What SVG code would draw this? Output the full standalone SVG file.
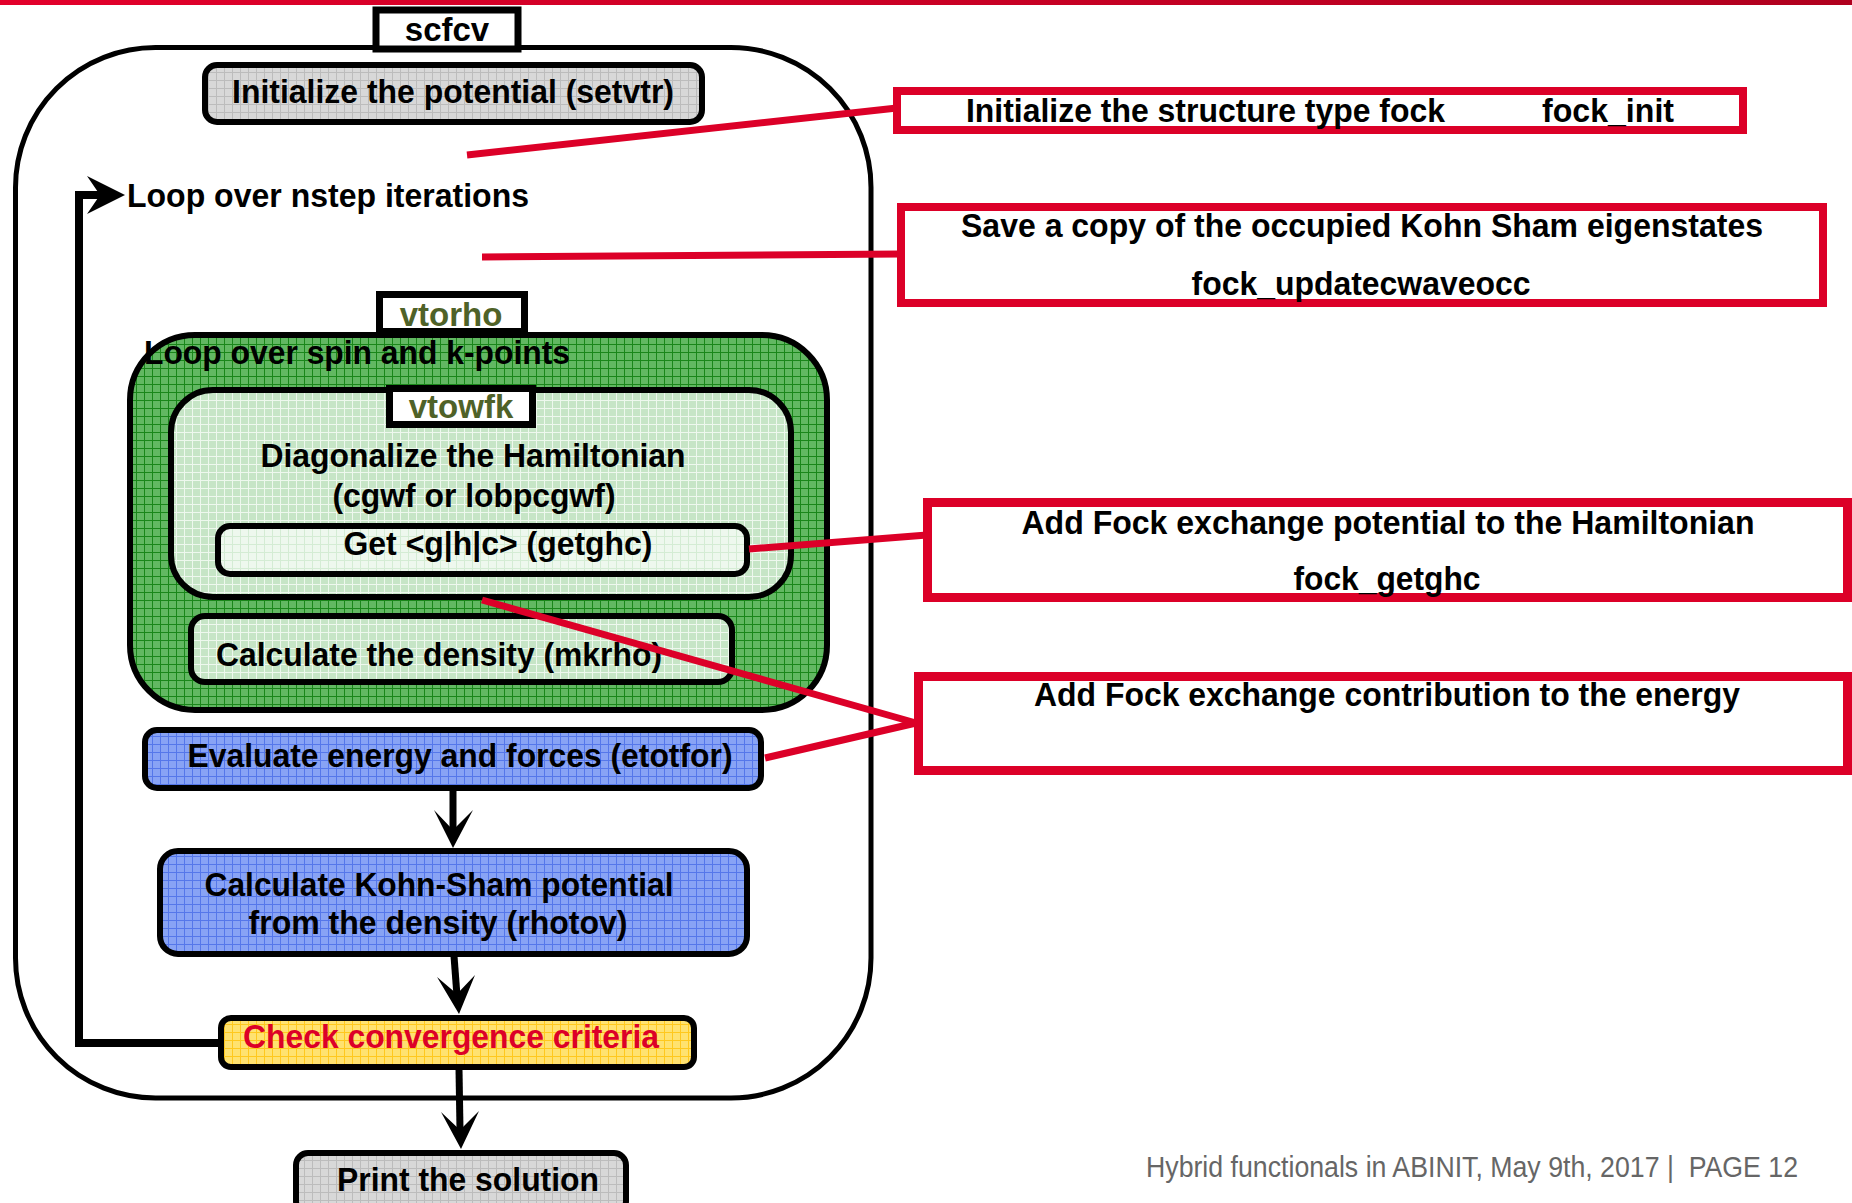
<svg xmlns="http://www.w3.org/2000/svg" width="1852" height="1203" viewBox="0 0 1852 1203">
<defs>
<style>
.t{font-family:"Liberation Sans",Arial,sans-serif;font-weight:bold;font-size:33px;fill:#000}
.m{text-anchor:middle}
.ol{fill:#4f6228}
.box{stroke:#000;stroke-width:6}
.lbl{fill:#fff;stroke:#000;stroke-width:7}
.note{fill:#fff;stroke:#dc0028;stroke-width:8}
.red{stroke:#dc0028;stroke-width:7;fill:none}
.flow{stroke:#000;stroke-width:7;fill:none}
.foot{font-family:"Liberation Sans",Arial,sans-serif;font-size:29px;fill:#666}
</style>
<linearGradient id="bar" x1="0" y1="0" x2="1" y2="0">
<stop offset="0" stop-color="#e3002b"/><stop offset="1" stop-color="#b0001e"/>
</linearGradient>
<pattern id="pGray" width="8" height="8" patternUnits="userSpaceOnUse">
<rect width="8" height="8" fill="#d8d8d8"/><path d="M0 0.5H8M0.5 0V8" stroke="#bcbcbc" stroke-width="1"/>
</pattern>
<pattern id="pGreen" width="8" height="8" patternUnits="userSpaceOnUse">
<rect width="8" height="8" fill="#62b862"/><path d="M0 0.5H8M0.5 0V8" stroke="#1a861a" stroke-width="1"/>
</pattern>
<pattern id="pLight" width="8" height="8" patternUnits="userSpaceOnUse">
<rect width="8" height="8" fill="#c6e5c6"/><path d="M0 0.5H8M0.5 0V8" stroke="#eef8ee" stroke-width="1"/>
</pattern>
<pattern id="pPale" width="8" height="8" patternUnits="userSpaceOnUse">
<rect width="8" height="8" fill="#eef8ee"/><path d="M0 0.5H8M0.5 0V8" stroke="#d4ecd4" stroke-width="1"/>
</pattern>
<pattern id="pBlue" width="8" height="8" patternUnits="userSpaceOnUse">
<rect width="8" height="8" fill="#88a3f5"/><path d="M0 0.5H8M0.5 0V8" stroke="#5577ea" stroke-width="1"/>
</pattern>
<pattern id="pYellow" width="8" height="8" patternUnits="userSpaceOnUse">
<rect width="8" height="8" fill="#ffe270"/><path d="M0 0.5H8M0.5 0V8" stroke="#ffc81e" stroke-width="1"/>
</pattern>
</defs>

<rect x="0" y="0" width="1852" height="5" fill="url(#bar)"/>

<g id="scfcv-loop">
<rect x="15.5" y="47.5" width="855.5" height="1050.5" rx="140" ry="140" fill="#fff" stroke="#000" stroke-width="5"/>
</g>
<g id="scfcv">
<rect class="lbl" x="376" y="10" width="142" height="39"/>
<text class="t m" x="447" y="41">scfcv</text>
</g>
<g id="setvtr">
<rect class="box" x="205" y="65" width="497" height="57" rx="12" fill="url(#pGray)"/>
<text class="t m" x="453" y="103" textLength="442" lengthAdjust="spacingAndGlyphs">Initialize the potential (setvtr)</text>
</g>
<g id="loop-label">
<text class="t" x="127" y="207" textLength="402" lengthAdjust="spacingAndGlyphs">Loop over nstep iterations</text>
</g>

<g id="vtorho-loop">
<rect class="box" x="130" y="335" width="697" height="375" rx="65" fill="url(#pGreen)"/>
</g>
<g id="vtorho">
<rect class="lbl" x="379.5" y="294.5" width="145" height="37"/>
<text class="t m ol" x="451" y="326">vtorho</text>
</g>
<g id="spin-label">
<text class="t" x="144" y="364" textLength="426" lengthAdjust="spacingAndGlyphs">Loop over spin and k-points</text>
</g>
<g id="vtowfk-block">
<rect class="box" x="171" y="390" width="620" height="207" rx="42" fill="url(#pLight)"/>
<text class="t m" x="473" y="467" textLength="425" lengthAdjust="spacingAndGlyphs">Diagonalize the Hamiltonian</text>
<text class="t m" x="474" y="507" textLength="283" lengthAdjust="spacingAndGlyphs">(cgwf or lobpcgwf)</text>
</g>
<g id="vtowfk">
<rect class="lbl" x="389.5" y="388.5" width="143" height="36"/>
<text class="t m ol" x="461" y="418">vtowfk</text>
</g>
<g id="getghc">
<rect class="box" x="218" y="526" width="529" height="48" rx="12" fill="url(#pPale)"/>
<text class="t m" x="498" y="555" textLength="309" lengthAdjust="spacingAndGlyphs">Get &lt;g|h|c&gt; (getghc)</text>
</g>
<g id="mkrho">
<rect class="box" x="191" y="616" width="541" height="66" rx="14" fill="url(#pLight)"/>
<text class="t" x="216" y="666" textLength="446" lengthAdjust="spacingAndGlyphs">Calculate the density (mkrho)</text>
</g>
<g id="etotfor">
<rect class="box" x="145" y="730" width="616" height="58" rx="12" fill="url(#pBlue)"/>
<text class="t m" x="460" y="767" textLength="545" lengthAdjust="spacingAndGlyphs">Evaluate energy and forces (etotfor)</text>
</g>
<g id="rhotov">
<rect class="box" x="160" y="851" width="587" height="103" rx="18" fill="url(#pBlue)"/>
<text class="t m" x="439" y="896" textLength="469" lengthAdjust="spacingAndGlyphs">Calculate Kohn-Sham potential</text>
<text class="t m" x="438" y="934" textLength="379" lengthAdjust="spacingAndGlyphs">from the density (rhotov)</text>
</g>
<g id="convergence">
<rect class="box" x="221" y="1018" width="473" height="49" rx="10" fill="url(#pYellow)"/>
<text class="t m" x="451" y="1048" style="fill:#dc0028" textLength="416" lengthAdjust="spacingAndGlyphs">Check convergence criteria</text>
</g>
<g id="print">
<rect class="box" x="296" y="1153" width="330" height="60" rx="12" fill="url(#pGray)"/>
<text class="t m" x="468" y="1191" textLength="262" lengthAdjust="spacingAndGlyphs">Print the solution</text>
</g>

<g id="fock_init">
<rect class="note" x="897" y="91" width="846" height="39"/>
<text class="t" x="966" y="122" textLength="479" lengthAdjust="spacingAndGlyphs">Initialize the structure type fock</text>
<text class="t" x="1542" y="122" textLength="132" lengthAdjust="spacingAndGlyphs">fock_init</text>
</g>
<g id="fock_updatecwaveocc">
<rect class="note" x="901" y="207" width="922" height="96"/>
<text class="t m" x="1362" y="237" textLength="802" lengthAdjust="spacingAndGlyphs">Save a copy of the occupied Kohn Sham eigenstates</text>
<text class="t m" x="1361" y="295" textLength="339" lengthAdjust="spacingAndGlyphs">fock_updatecwaveocc</text>
</g>
<g id="fock_getghc">
<rect class="note" x="927.5" y="502.5" width="920" height="95" style="stroke-width:9"/>
<text class="t m" x="1388" y="534" textLength="733" lengthAdjust="spacingAndGlyphs">Add Fock exchange potential to the Hamiltonian</text>
<text class="t m" x="1387" y="590" textLength="187" lengthAdjust="spacingAndGlyphs">fock_getghc</text>
</g>
<g id="fock_energy">
<rect class="note" x="918.5" y="676.5" width="929" height="94" style="stroke-width:9"/>
<text class="t m" x="1387" y="706" textLength="706" lengthAdjust="spacingAndGlyphs">Add Fock exchange contribution to the energy</text>
</g>

<g id="connectors">
<path class="flow" d="M218 1043H79V195H102" style="stroke-width:8;stroke-linejoin:miter"/>
<polygon points="125,195 87,176 100,195 87,214" fill="#000"/>
<path class="flow" d="M453 790V832"/>
<polygon points="453,848 434,810 453,830 473,810" fill="#000"/>
<path class="flow" d="M454 956L457 996"/>
<polygon points="459,1014 437,977 457,994 475,975" fill="#000"/>
<path class="flow" d="M459 1069L460 1130"/>
<polygon points="461,1149 441,1112 460,1130 479,1111" fill="#000"/>
<path class="red" d="M467 155L897 108"/>
<path class="red" d="M482 257L901 254"/>
<path class="red" d="M749 549L927 535"/>
<path class="red" d="M482 600L916 723L765 758"/>
</g>

<text class="foot" x="1146" y="1177" textLength="652" lengthAdjust="spacingAndGlyphs">Hybrid functionals in ABINIT, May 9th, 2017 |&#160; PAGE 12</text>
</svg>
